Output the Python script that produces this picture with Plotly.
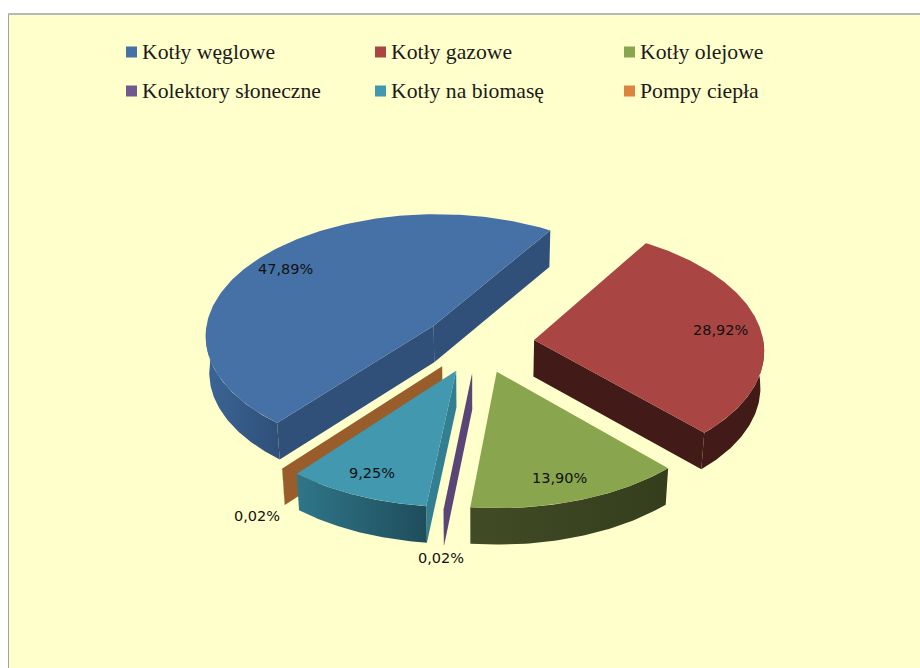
import numpy as np
import plotly.graph_objects as go

# ---- data ----
categories = ["Kotły węglowe", "Kotły gazowe", "Kotły olejowe",
              "Kolektory słoneczne", "Kotły na biomasę", "Pompy ciepła"]
values = [47.89, 28.92, 13.90, 0.02, 9.25, 0.02]

# ---- styles ----
top_colors = ["#4571A6", "#A94543", "#89A54E", "#71588F", "#4198AF", "#DB843D"]
cut_colors = ["#30507A", "#421A18", "#39431F", "#5A4576", "#327E92", "#985D2A"]
arc_left = ["#3B6596", "#421A18", "#414B25", "#5A4576", "#2F7689", "#985D2A"]
arc_right = ["#2F4F78", "#421A18", "#343E1D", "#5A4576", "#1F4D5B", "#985D2A"]
draw_order = [0, 1, 5, 4, 3, 2]

W, H = 920, 668
PLOT_L, PLOT_T = 9, 15
CX, CY = 478.5, 343        # pixel position of the pie centre
RX, RY, PERSP = 229.5, 122, 0.0731
EXPLODE = 0.244
DEPTH, BOTTOM_SCALE = 36.5, 0.987
START_ANGLE = 219.8


def px(x):
    return x - CX


def py(y):
    return CY - y


def project(u, v, drop=0.0):
    w = 1 + PERSP * v
    x, y = RX * u / w, RY * v / w
    if drop:
        x, y = x * BOTTOM_SCALE, y - drop
    return x, y


def ground(theta, mid):
    t, m = np.radians(theta), np.radians(mid)
    return np.sin(t) + EXPLODE * np.sin(m), np.cos(t) + EXPLODE * np.cos(m)


fig = go.Figure()


def poly(xs, ys, color, grad=None):
    kw = dict(fillcolor=color)
    if grad:
        kw = dict(fillgradient=dict(type="horizontal",
                                    colorscale=[[0, grad[0]], [1, grad[1]]]))
    fig.add_trace(go.Scatter(x=list(xs) + [xs[0]], y=list(ys) + [ys[0]], mode="lines",
                             fill="toself", line=dict(width=0, color=color),
                             showlegend=False, hoverinfo="skip", **kw))


edges = START_ANGLE + np.cumsum([0] + [v * 3.6 for v in values])
for i in draw_order:
    a0, a1 = edges[i], edges[i + 1]
    mid = (a0 + a1) / 2
    au, av = EXPLODE * np.sin(np.radians(mid)), EXPLODE * np.cos(np.radians(mid))

    def cut_face(theta, sign):
        t = np.radians(theta)
        if sign * (-np.sin(t)) >= 0:      # the face's normal points away from the viewer
            return
        eu, ev = ground(theta, mid)
        x0, y0 = project(au, av)
        x1, y1 = project(eu, ev)
        x2, y2 = project(eu, ev, DEPTH)
        x3, y3 = project(au, av, DEPTH)
        poly([x0, x1, x2, x3], [y0, y1, y2, y3], cut_colors[i])

    cut_face(a0, -1)
    cut_face(a1, 1)

    # outer wall: only the part of the arc that faces the viewer
    n0, n1 = 90.0, 270.0
    for k in (-1, 0, 1):
        lo, hi = max(a0, n0 + 360 * k), min(a1, n1 + 360 * k)
        if hi > lo:
            th = np.linspace(lo, hi, 60)
            u, v = ground(th, mid)
            xt, yt = project(u, v)
            xb, yb = project(u, v, DEPTH)
            xs = np.r_[xt, xb[::-1]]
            ys = np.r_[yt, yb[::-1]]
            poly(xs, ys, arc_left[i],
                 grad=None if arc_left[i] == arc_right[i] else (arc_left[i], arc_right[i]))

    th = np.linspace(a0, a1, 160)
    u, v = ground(th, mid)
    xt, yt = project(u, v)
    x0, y0 = project(au, av)
    poly(np.r_[x0, xt], np.r_[y0, yt], top_colors[i])

# ---- legend: swatches and names ----
legend_x = [131.5, 380.5, 629.5]
legend_y = [52, 91]
annotations = []
for i, name in enumerate(categories):
    col, row = i % 3, i // 3
    fig.add_trace(go.Scatter(x=[px(legend_x[col])], y=[py(legend_y[row])], mode="markers",
                             marker=dict(symbol="square", size=11, color=top_colors[i],
                                         line=dict(width=0)),
                             name=name, showlegend=False, hoverinfo="name"))
    annotations.append(dict(x=px(legend_x[col] + 8.5), y=py(legend_y[row] - 0.5), text=name,
                            xanchor="left", yanchor="middle", showarrow=False,
                            font=dict(family="Liberation Serif", size=21.7,
                                      color="#1A1A1A")))

# ---- data labels ----
label_pos = [(285, 269), (720, 330), (559, 478), (441, 558), (372, 473), (257, 516)]
for v, (lx, ly) in zip(values, label_pos):
    annotations.append(dict(x=px(lx), y=py(ly), text=f"{v:.2f}".replace(".", ",") + "%",
                            xanchor="center", yanchor="middle", showarrow=False,
                            font=dict(family="DejaVu Sans", size=14.5, color="#111111")))

fig.update_layout(
    width=W, height=H, margin=dict(l=PLOT_L, r=0, t=PLOT_T, b=0, pad=0),
    paper_bgcolor="white", plot_bgcolor="#FFFFCC", showlegend=False,
    annotations=annotations,
    xaxis=dict(range=[px(PLOT_L), px(W)], visible=True, showgrid=False, zeroline=False,
               showticklabels=False, ticks="", side="top", showline=True,
               linecolor="#B8B8B8", linewidth=2, fixedrange=True),
    yaxis=dict(range=[py(H), py(PLOT_T)], visible=True, showgrid=False, zeroline=False,
               showticklabels=False, ticks="", showline=True,
               linecolor="#A0A0A0", linewidth=1, fixedrange=True),
)

fig.write_html("out.html", config={"displayModeBar": False},
               post_script="document.body.style.margin='0';")
